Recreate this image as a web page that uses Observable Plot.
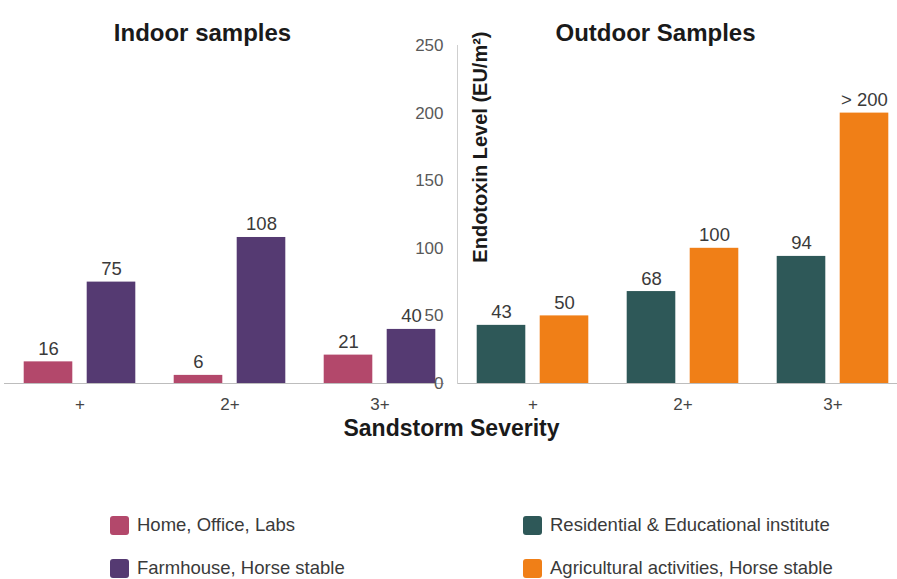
<!DOCTYPE html>
<html><head><meta charset="utf-8">
<script src="https://cdn.jsdelivr.net/npm/d3@7"></script>
<script src="https://cdn.jsdelivr.net/npm/@observablehq/plot@0.6"></script>
<style>
html,body{margin:0;padding:0;background:#fff;overflow:hidden;width:897px;height:579px}
body{font-family:"Liberation Sans",Arial,sans-serif}
#chart svg{display:block}
#xlabel{font-weight:bold;font-size:23px;line-height:32px;text-align:center;color:#1a1a1a;width:897px;box-sizing:border-box;padding-left:6px;margin-top:-12px;position:relative}
#legend{display:grid;grid-template-columns:413px auto;row-gap:19px;padding-left:110px;margin-top:69px}
.item{display:flex;align-items:center;font-size:18.5px;line-height:24px;color:#3a3a3a}
.sw{width:19px;height:19px;border-radius:3px;margin-right:8px;flex:none}
</style></head><body><div id="chart"></div><script>
const panels = ["Indoor samples", "Outdoor Samples"];
const severity = ["+", "2+", "3+"];
const types = ["Home, Office, Labs", "Farmhouse, Horse stable", "Residential & Educational institute", "Agricultural activities, Horse stable"];
const colors = ["#b3486b", "#553a72", "#2e5858", "#f07f17"];
const homeOffice = [16, 6, 21];
const farmhouse = [75, 108, 40];
const residential = [43, 68, 94];
const agricultural = [50, 100, 200];
const agriculturalLabels = ["50", "100", "> 200"];
const yTicks = [0, 50, 100, 150, 200, 250];
const yLabel = "Endotoxin Level (EU/m²)";
const xLabel = "Sandstorm Severity";

function rows(panel, type, values, labels) {
  return severity.map((s, i) => ({panel, severity: s, type, value: values[i], label: labels ? labels[i] : String(values[i])}));
}
const first = [...rows(panels[0], types[0], homeOffice), ...rows(panels[1], types[2], residential)];
const second = [...rows(panels[0], types[1], farmhouse), ...rows(panels[1], types[3], agricultural, agriculturalLabels)];

const labelStyle = {fontSize: 18.5, fill: "#3a3a3a", lineAnchor: "bottom", dy: -7};

const chart = Plot.plot({
  width: 897, height: 424,
  marginLeft: 4, marginRight: 0, marginTop: 45, marginBottom: 41,
  style: {fontFamily: "'Liberation Sans', Arial, sans-serif", background: "white"},
  fx: {domain: panels, paddingInner: 13 / 453, paddingOuter: 0, axis: null},
  x: {domain: severity, paddingInner: 0.1, paddingOuter: 0, insetLeft: 7.3, insetRight: -3.75, axis: null},
  y: {domain: [0, 250], axis: null},
  color: {domain: types, range: colors},
  marks: [
    Plot.ruleY([0], {stroke: "#bdbdbd", strokeWidth: 1.2}),
    Plot.frame({anchor: "left", fx: panels[1], stroke: "#cfcfcf"}),
    Plot.barY(first, {fx: "panel", x: "severity", y: "value", fill: "type", insetLeft: 11.7, insetRight: 74.7}),
    Plot.barY(second, {fx: "panel", x: "severity", y: "value", fill: "type", insetLeft: 74.7, insetRight: 11.7}),
    Plot.text(first, {fx: "panel", x: "severity", y: "value", text: "label", dx: -31.5, ...labelStyle}),
    Plot.text(second, {fx: "panel", x: "severity", y: "value", text: "label", dx: 31.5, ...labelStyle}),
    Plot.axisX({tickSize: 0, tickPadding: 14, fontSize: 17, fill: "#444", label: null}),
    Plot.axisY(yTicks, {anchor: "left", facetAnchor: "right", tickSize: 0, tickPadding: 14, fontSize: 17, fill: "#595959", label: null}),
    Plot.text(panels, {fx: d => d, text: d => d, frameAnchor: "top", dy: -22, dx: -22, fontSize: 24, fontWeight: "bold", fill: "#1a1a1a"}),
    Plot.text([yLabel], {fx: () => panels[1], text: d => d, frameAnchor: "top-left", rotate: -90, textAnchor: "end", dx: 15, dy: -14, fontSize: 20, fontWeight: "bold", fill: "#1a1a1a"})
  ]
});
const root = document.getElementById("chart");
root.appendChild(chart);
const xl = document.createElement("div");
xl.id = "xlabel"; xl.textContent = xLabel;
root.appendChild(xl);
const legend = document.createElement("div");
legend.id = "legend";
[0, 2, 1, 3].forEach(i => {
  const it = document.createElement("div"); it.className = "item";
  const sw = document.createElement("span"); sw.className = "sw"; sw.style.background = colors[i];
  const tx = document.createElement("span"); tx.textContent = types[i];
  it.appendChild(sw); it.appendChild(tx); legend.appendChild(it);
});
root.appendChild(legend);
</script></body></html>
